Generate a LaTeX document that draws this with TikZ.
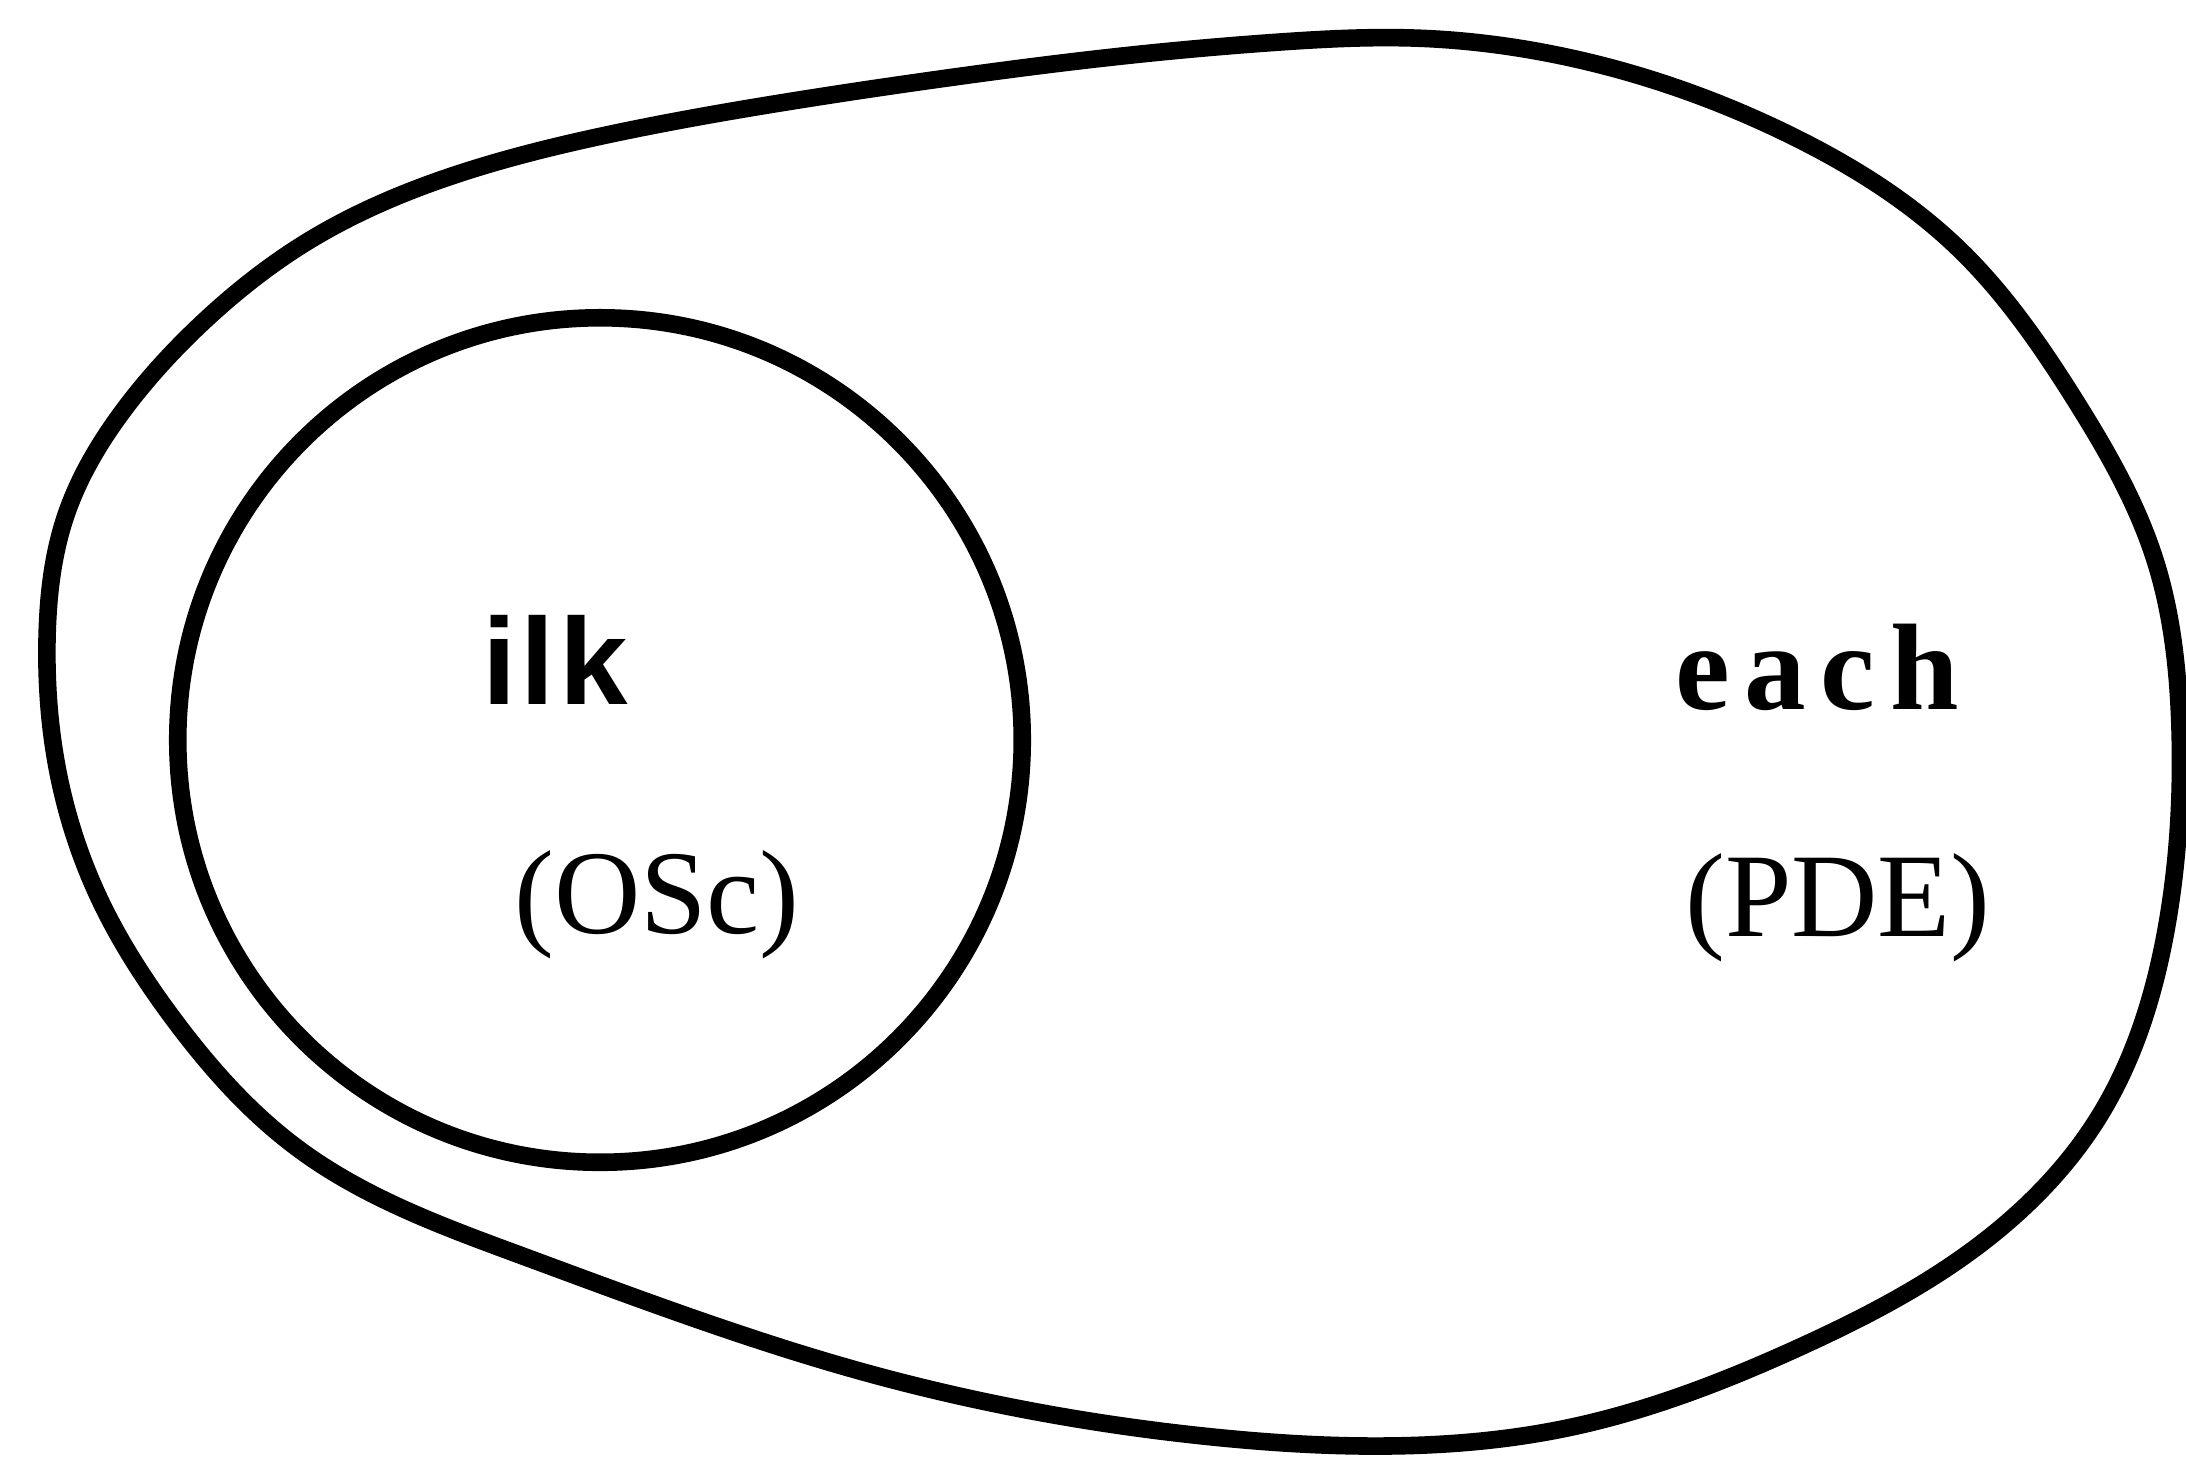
\documentclass[tikz,border=0pt]{standalone}
\usepackage{fontspec}
\setmainfont{Liberation Serif}
\setsansfont{Liberation Sans}
\usetikzlibrary{hobby}
\begin{document}
\begin{tikzpicture}[x=0.01cm,y=-0.01cm,
  rim/.style={line width=5pt, line join=round},
  blob/.style={rim, use Hobby shortcut, closed=true},
  word/.style={font=\fontsize{35}{40}\selectfont\bfseries, inner sep=0},
  abbr/.style={font=\fontsize{34}{40}\selectfont, inner sep=0}]
\useasboundingbox (0,0) rectangle (2186,1462);
% outer region
\draw[blob] (597,137) .. (780,103) .. (947,78) .. (1113,57) .. (1280,42)
 .. (1413,38) .. (1580,60) .. (1790,135) .. (1960,250) .. (2075,400)
 .. (2155,560) .. (2180,730) .. (2166,930) .. (2100,1115) .. (1967,1254)
 .. (1800,1347) .. (1567,1428) .. (1383,1446) .. (1213,1437) .. (867,1373)
 .. (520,1255) .. (300,1150) .. (172,1017) .. (100,900) .. (57,767)
 .. (47,640) .. (66,515) .. (120,415) .. (200,325) .. (310,240) .. (440,180);
% inner region
\node[rim, draw, circle, minimum size=8.44cm, inner sep=0] (inner) at (600,740) {};
\node[word, font=\fontsize{35}{40}\selectfont\sffamily\bfseries] (ilk) at (555,660) {i\kern0.4mm l\kern0.4mm k};
\node[abbr] (osc) at (657,905) {(OSc)};
\node[word] (each) at (1817,667) {\addfontfeatures{LetterSpace=12}each};
\node[abbr] (pde) at (1838,908) {(PDE)};
\end{tikzpicture}
\end{document}
